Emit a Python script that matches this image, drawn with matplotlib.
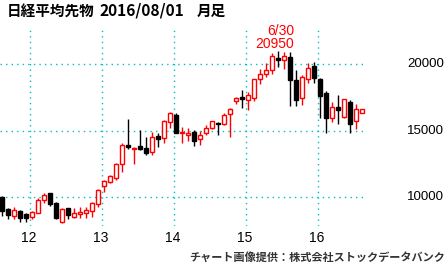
"""Nikkei 225 futures monthly candlestick chart (Aug 2011 - Aug 2016)."""

import matplotlib
import matplotlib.pyplot as plt

matplotlib.use("Agg")

# ── Data ─────────────────────────────────────────────────────────────────────
# one candle per month, Aug 2011 .. Aug 2016

OPENS = [
    10040, 9110, 8610, 8960, 8740,
    8490, 8840, 9790, 10290, 9590, 8160, 9170, 8540, 8740, 8790, 8990, 9490,
    10840, 11170, 11470, 12470, 13920, 13600, 13820, 13670, 13420, 14600, 14420, 15670,
    16200, 14840, 14650, 14920, 14350, 14800, 15170, 15600, 15470, 16220, 17220, 17550,
    17300, 17470, 18850, 19230, 19550, 20430, 20300, 20500, 18800, 17425, 18850, 19850,
    18870, 17845, 15970, 16775, 16050, 17170, 15720, 16300,
]
HIGHS = [
    10100, 9200, 9240, 9040, 8790,
    8990, 9920, 10290, 10340, 9650, 9170, 9200, 9170, 9240, 9270, 9670, 10600,
    11300, 11700, 12600, 14090, 15840, 13800, 15050, 14550, 14900, 14840, 15800, 16400,
    16300, 15300, 15200, 15050, 14950, 15400, 15750, 15650, 16350, 16675, 17550, 18050,
    17900, 18900, 19600, 20100, 20800, 20950, 20925, 20925, 19550, 19150, 20050, 20125,
    18925, 17950, 17170, 17670, 17400, 17300, 16975, 16620,
]
LOWS = [
    8610, 8340, 8360, 8160, 8160,
    8340, 8780, 9540, 9340, 8400, 8040, 8340, 8420, 8420, 8420, 8540, 9300,
    10420, 11100, 11300, 11900, 13600, 12470, 13550, 13200, 13200, 13790, 14050, 15200,
    14800, 14050, 14200, 13870, 13950, 14700, 15100, 14670, 15450, 14545, 17000, 16675,
    16550, 17200, 18500, 19000, 19250, 19800, 19600, 16850, 16850, 16900, 18600, 18550,
    15920, 14800, 15670, 15470, 15950, 14800, 15120, 16300,
]
CLOSES = [
    8990, 8690, 9040, 8460, 8410,
    8870, 9790, 10170, 9470, 8460, 9110, 8660, 8840, 8920, 9040, 9540, 10540,
    11210, 11590, 12470, 13920, 13745, 13670, 13620, 13340, 14500, 14350, 15750, 16350,
    14840, 14920, 14840, 14240, 14670, 15170, 15700, 15470, 16170, 16600, 17475, 17370,
    17670, 18850, 19230, 19550, 20600, 20300, 20600, 18800, 17300, 19050, 19725, 18970,
    17620, 15920, 16800, 16520, 17350, 15500, 16620, 16620,
]

YEAR_LABELS = ["12", "13", "14", "15", "16"]
YEAR_START_IDX = [5, 17, 29, 41, 53]  # January candle of each year
PRICE_TICKS = [10000, 15000, 20000]

PEAK_IDX = 46
PEAK_DATE = "6/30"
PEAK_PRICE = 20950

TITLE_PARTS = ["日経平均先物", "2016/08/01", "月足"]
CREDIT = "チャート画像提供：株式会社ストックデータバンク"

UP_COLOR = "#ff0000"
DOWN_COLOR = "#000000"
GRID_COLOR = "#00c0c0"
NUM_FONT = ["Liberation Sans", "DejaVu Sans"]
JP_FONT = ["Noto Sans CJK JP", "DejaVu Sans"]

W, H = 448, 273

# ── Chart ────────────────────────────────────────────────────────────────────

fig = plt.figure(figsize=(W / 100, H / 100), dpi=100)
ax = fig.add_axes([0, 1 - 226 / H, 366 / W, 196 / H])

n = len(OPENS)
body_w = 0.72

for i, o, h, l, c in zip(range(n), OPENS, HIGHS, LOWS, CLOSES, strict=True):
    col = UP_COLOR if c >= o else DOWN_COLOR
    ax.vlines(i, l, h, color=col, linewidth=1.0, zorder=3)
    lo, hi = min(o, c), max(o, c)
    ax.bar(
        i,
        max(hi - lo, 30),
        bottom=lo,
        width=body_w,
        facecolor="white" if c >= o else DOWN_COLOR,
        edgecolor=col,
        linewidth=1.0,
        zorder=4,
    )

for y in PRICE_TICKS:
    ax.axhline(y, color=GRID_COLOR, linestyle=(0, (1, 3)), linewidth=1.0, zorder=1)
for i in YEAR_START_IDX:
    ax.axvline(i - 0.3, color=GRID_COLOR, linestyle=(0, (1, 3)), linewidth=1.0, zorder=1)

ax.set_xlim(-0.28, 60.72)
ax.set_ylim(7840, 22550)
ax.axis("off")

# right-hand price labels
for y in PRICE_TICKS:
    ax.text(444 / 366, y, f"{y}", transform=ax.get_yaxis_transform(),
            ha="right", va="center", fontsize=9.5, family=NUM_FONT)

# year labels under the grid lines
for i, lab in zip(YEAR_START_IDX, YEAR_LABELS, strict=True):
    ax.text(i - 0.5, -0.061, lab, transform=ax.get_xaxis_transform(),
            ha="center", va="center", fontsize=10, family=NUM_FONT)

# peak annotation
ax.annotate(PEAK_DATE, (PEAK_IDX, PEAK_PRICE), xytext=(12, 14.5), textcoords="offset points",
            ha="right", va="center", color=UP_COLOR, fontsize=10, family=NUM_FONT)
ax.annotate(f"{PEAK_PRICE}", (PEAK_IDX, PEAK_PRICE), xytext=(12, 5.5), textcoords="offset points",
            ha="right", va="center", color=UP_COLOR, fontsize=10, family=NUM_FONT)

for x0, part, fs in zip([7, 99, 197], TITLE_PARTS, [10.5, 11.2, 10.5], strict=True):
    fig.text(x0 / W, 1 - 10.5 / H, part, ha="left", va="center", fontsize=fs,
             fontweight="bold", family=JP_FONT)
fig.text(445 / W, 1 - 257.5 / H, CREDIT, ha="right", va="center", fontsize=8,
         fontweight="bold", color="#333333", family=JP_FONT)

fig.savefig("out.png", dpi=100)
plt.close(fig)
